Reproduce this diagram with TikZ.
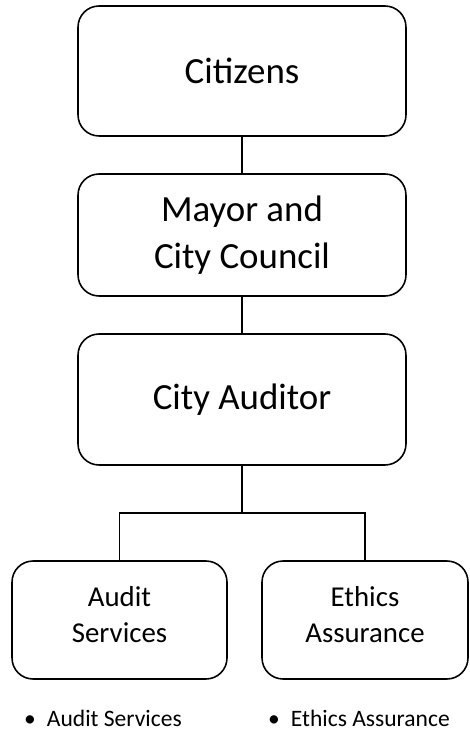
\documentclass[tikz,border=0pt]{standalone}
\usepackage{fontspec}
\setmainfont{Carlito}
\usetikzlibrary{positioning}
\begin{document}
\begin{tikzpicture}[x=0.02cm,y=-0.02cm,
    bigbox/.style={draw,line width=0.9pt,rounded corners=0.42cm,align=center,
        minimum width=6.56cm,font=\fontsize{21}{27}\selectfont},
    smallbox/.style={draw,line width=0.9pt,rounded corners=0.42cm,align=center,
        minimum height=2.36cm,font=\fontsize{16.4}{20.5}\selectfont},
    listitem/.style={anchor=west,font=\fontsize{13.4}{16}\selectfont},
    link/.style={line width=0.8pt}]
    \useasboundingbox (0,0) rectangle (469,732);

    % top of the chart
    \node[bigbox,minimum height=2.6cm] (citizens) at (242,71) {Citizens};
    \node[bigbox,minimum height=2.44cm] (council) at (242,235) {Mayor and\\City Council};
    \node[bigbox,minimum height=2.62cm] (auditor) at (242,399.5) {City Auditor};

    % divisions
    \node[smallbox,minimum width=4.3cm] (audit) at (119.5,620) {Audit\\Services\\[-14pt]};
    \node[smallbox,minimum width=4.12cm] (ethics) at (365,620) {Ethics\\Assurance\\[-14pt]};

    \draw[link] (citizens) -- (council);
    \draw[link] (council) -- (auditor);
    \coordinate (split) at (auditor.south |- 0,513);
    \draw[link] (auditor) -- (split);
    \draw[link] (split) -| (audit.north);
    \draw[link] (split) -| (ethics.north);

    % bullet lists
    \node[listitem] (auditlist) at (18,718) {\textbullet\hspace{0.22cm}Audit Services};
    \node[listitem] (ethicslist) at (262,718) {\textbullet\hspace{0.22cm}Ethics Assurance};
\end{tikzpicture}
\end{document}
